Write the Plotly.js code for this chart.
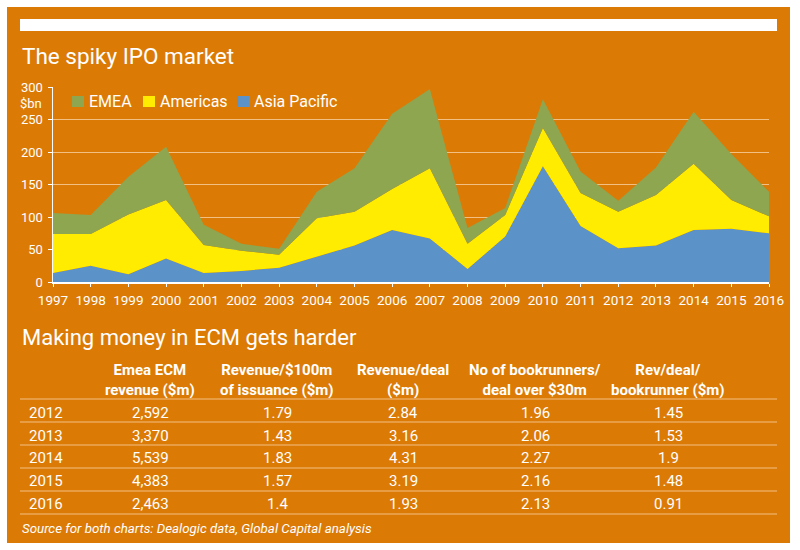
<!DOCTYPE html>
<html>
<head>
<meta charset="utf-8">
<script src="https://cdn.plot.ly/plotly-3.0.1.min.js"></script>
<style>
  html, body { margin: 0; padding: 0; background: #ffffff; }
  #chart { width: 800px; height: 550px; }
</style>
</head>
<body>
<div id="chart"></div>
<script>
// IPO volumes by region, $bn
const years = [1997, 1998, 1999, 2000, 2001, 2002, 2003, 2004, 2005, 2006,
               2007, 2008, 2009, 2010, 2011, 2012, 2013, 2014, 2015, 2016];
const asiaPacific = [14, 25, 12, 36, 14, 17, 22, 39, 56, 80, 67, 20, 70, 178, 86, 52, 56, 80, 82, 75];
const americas    = [60, 49, 92, 90, 43, 31, 20, 59, 52, 63, 108, 39, 33, 59, 51, 56, 78, 102, 44, 26];
const emea        = [32, 29, 58, 82, 31, 11, 9, 41, 67, 116, 122, 24, 11, 44, 33, 17, 42, 80, 71, 38];

const seriesNames  = ['EMEA', 'Americas', 'Asia Pacific'];
const seriesColors = ['#8da64f', '#ffec00', '#5b92c7'];

// ECM economics table
const tableHeaders = ['Emea ECM<br>revenue ($m)', 'Revenue/$100m<br>of issuance ($m)',
                      'Revenue/deal<br>($m)', 'No of bookrunners/<br>deal over $30m',
                      'Rev/deal/<br>bookrunner ($m)'];
const tableYears       = ['2012', '2013', '2014', '2015', '2016'];
const emeaRevenue      = ['2,592', '3,370', '5,539', '4,383', '2,463'];
const revPer100m       = ['1.79', '1.43', '1.83', '1.57', '1.4'];
const revPerDeal       = ['2.84', '3.16', '4.31', '3.19', '1.93'];
const bookrunnersDeal  = ['1.96', '2.06', '2.27', '2.16', '2.13'];
const revPerBookrunner = ['1.45', '1.53', '1.9', '1.48', '0.91'];

// ---- layout geometry (pixels) ----
const W = 800, H = 550;
const plotL = 53, plotR = 769, plotT = 87, plotB = 282;
const px2x = px => (px - plotL) / (plotR - plotL);
const py2y = py => (plotB - py) / (plotB - plotT);

const ORANGE = '#dc7a06';
const GRID = '#f3c083';
const TEXT = '#ffffff';
const FONT = 'Roboto, "Open Sans", sans-serif';

// stacked areas: bottom to top
const stackOrder = [
  { name: 'Asia Pacific', y: asiaPacific },
  { name: 'Americas', y: americas },
  { name: 'EMEA', y: emea }
];
const traces = stackOrder.map(s => ({
  type: 'scatter',
  mode: 'lines',
  x: years,
  y: s.y,
  name: s.name,
  stackgroup: 'ipo',
  line: { width: 0, color: seriesColors[seriesNames.indexOf(s.name)] },
  fillcolor: seriesColors[seriesNames.indexOf(s.name)],
  hoverinfo: 'x+y+name'
}));

const shapes = [];
const annotations = [];

// orange panel and white strip
shapes.push({ type: 'rect', xref: 'paper', yref: 'paper', layer: 'below',
  x0: px2x(7), x1: px2x(790), y0: py2y(543), y1: py2y(7),
  fillcolor: ORANGE, line: { width: 0 } });
shapes.push({ type: 'rect', xref: 'paper', yref: 'paper', layer: 'below',
  x0: px2x(20), x1: px2x(777), y0: py2y(31), y1: py2y(19),
  fillcolor: '#ffffff', line: { width: 0 } });

// titles
annotations.push({ xref: 'paper', yref: 'paper', x: px2x(20), y: py2y(56),
  xanchor: 'left', yanchor: 'middle', showarrow: false,
  text: 'The spiky IPO market', font: { family: FONT, size: 22.5, color: TEXT } });
annotations.push({ xref: 'paper', yref: 'paper', x: px2x(20), y: py2y(337),
  xanchor: 'left', yanchor: 'middle', showarrow: false,
  text: 'Making money in ECM gets harder', font: { family: FONT, size: 22, color: TEXT } });

// unit label
annotations.push({ xref: 'paper', yref: 'paper', x: px2x(44), y: py2y(103),
  xanchor: 'right', yanchor: 'middle', showarrow: false,
  text: '$bn', font: { family: FONT, size: 13, color: TEXT } });

// legend
const legendX = [72, 143, 237];
seriesNames.forEach((name, i) => {
  const x0 = legendX[i];
  shapes.push({ type: 'rect', xref: 'paper', yref: 'paper',
    x0: px2x(x0), x1: px2x(x0 + 12), y0: py2y(107), y1: py2y(96),
    fillcolor: seriesColors[i], line: { width: 0 } });
  annotations.push({ xref: 'paper', yref: 'paper', x: px2x(x0 + 15), y: py2y(102),
    xanchor: 'left', yanchor: 'middle', showarrow: false,
    text: name, font: { family: FONT, size: 16, color: TEXT } });
});

// table
const colCenters = [150, 277, 403, 535, 668];
const columns = [emeaRevenue, revPer100m, revPerDeal, bookrunnersDeal, revPerBookrunner];
const rowCenters = [413, 436, 458, 481, 504];
const ruleY = [399, 422, 445, 468, 491, 514];

tableHeaders.forEach((h, i) => {
  annotations.push({ xref: 'paper', yref: 'paper', x: px2x(colCenters[i]), y: py2y(380),
    xanchor: 'center', yanchor: 'middle', showarrow: false,
    text: '<b>' + h.split('<br>').join('</b><br><b>') + '</b>',
    font: { family: FONT, size: 15, color: TEXT } });
});
ruleY.forEach(py => {
  shapes.push({ type: 'line', xref: 'paper', yref: 'paper',
    x0: px2x(20), x1: px2x(777), y0: py2y(py), y1: py2y(py),
    line: { color: GRID, width: 1 } });
});
tableYears.forEach((yr, r) => {
  annotations.push({ xref: 'paper', yref: 'paper', x: px2x(27), y: py2y(rowCenters[r]),
    xanchor: 'left', yanchor: 'middle', showarrow: false,
    text: yr, font: { family: FONT, size: 15, color: TEXT } });
  columns.forEach((col, c) => {
    annotations.push({ xref: 'paper', yref: 'paper', x: px2x(colCenters[c]), y: py2y(rowCenters[r]),
      xanchor: 'center', yanchor: 'middle', showarrow: false,
      text: col[r], font: { family: FONT, size: 15, color: TEXT } });
  });
});

// source note
annotations.push({ xref: 'paper', yref: 'paper', x: px2x(20), y: py2y(528),
  xanchor: 'left', yanchor: 'middle', showarrow: false,
  text: '<i>Source for both charts: Dealogic data, Global Capital analysis</i>',
  font: { family: FONT, size: 13.3, color: TEXT } });

const layout = {
  width: W, height: H,
  margin: { l: plotL, r: W - plotR, t: plotT, b: H - plotB, pad: 0 },
  paper_bgcolor: '#ffffff',
  plot_bgcolor: 'rgba(0,0,0,0)',
  showlegend: false,
  font: { family: FONT, color: TEXT },
  xaxis: {
    range: [1997, 2016], tickmode: 'linear', tick0: 1997, dtick: 1,
    showgrid: false, zeroline: false,
    showline: true, linecolor: '#ffffff', linewidth: 1.5,
    ticks: 'outside', ticklen: 3, tickcolor: '#ffffff',
    ticklabelstandoff: 2,
    tickfont: { family: FONT, size: 13.5, color: TEXT },
    fixedrange: true
  },
  yaxis: {
    range: [0, 300], tickmode: 'linear', tick0: 0, dtick: 50,
    showgrid: true, gridcolor: GRID, gridwidth: 1, zeroline: false,
    showline: true, linecolor: '#ffffff', linewidth: 1.5,
    ticks: 'outside', ticklen: 4, tickcolor: '#ffffff',
    ticklabelstandoff: 2,
    tickfont: { family: FONT, size: 13, color: TEXT },
    fixedrange: true
  },
  shapes: shapes,
  annotations: annotations
};

Plotly.newPlot('chart', traces, layout, { displayModeBar: false, staticPlot: true });
</script>
</body>
</html>
